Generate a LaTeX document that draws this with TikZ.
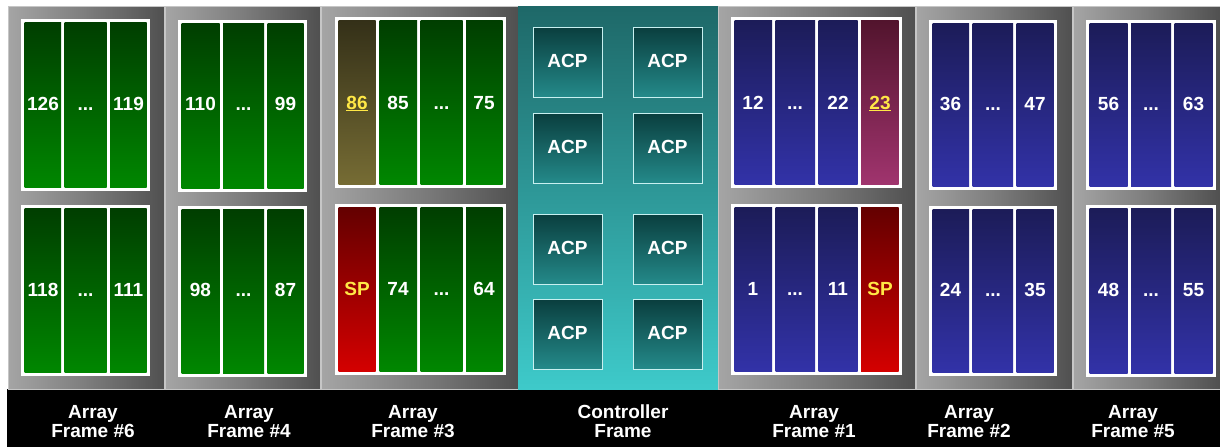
\documentclass[tikz,border=0pt]{standalone}
\usepackage{fontspec}
\setmainfont{Liberation Sans}
\definecolor{fgl}{RGB}{165,165,165}
\definecolor{fgm}{RGB}{125,125,125}
\definecolor{fgr}{RGB}{80,80,80}
\definecolor{gtop}{RGB}{0,62,0}
\definecolor{gbot}{RGB}{0,135,0}
\definecolor{btop}{RGB}{28,28,88}
\definecolor{bbot}{RGB}{50,50,168}
\definecolor{rtop}{RGB}{100,0,0}
\definecolor{rbot}{RGB}{212,0,0}
\definecolor{otop}{RGB}{52,48,24}
\definecolor{obot}{RGB}{118,108,52}
\definecolor{ptop}{RGB}{82,20,45}
\definecolor{pbot}{RGB}{160,52,110}
\definecolor{ctop}{RGB}{30,104,104}
\definecolor{cbot}{RGB}{62,202,202}
\definecolor{atop}{RGB}{10,62,62}
\definecolor{abot}{RGB}{36,138,138}
\definecolor{spy}{RGB}{255,232,70}
\tikzset{
  framebg/.style={left color=fgl, right color=fgr, middle color=fgm, draw=gray!45!white, line width=0.8pt},
  ctrlbg/.style={top color=ctop, bottom color=cbot},
  greencol/.style={top color=gtop, bottom color=gbot},
  bluecol/.style={top color=btop, bottom color=bbot},
  redcol/.style={top color=rtop, bottom color=rbot},
  olivecol/.style={top color=otop, bottom color=obot},
  pinkcol/.style={top color=ptop, bottom color=pbot},
  acpbox/.style={top color=atop, bottom color=abot, draw={rgb,255:red,200;green,240;blue,240}, line width=0.9pt},
  num/.style={text=white, font=\fontsize{19}{20}\selectfont\bfseries, anchor=base, inner sep=0pt},
  ynum/.style={num, text=spy},
  lbl/.style={text=white, font=\fontsize{19}{20}\selectfont\bfseries, anchor=base, inner sep=0pt},
}
\newcommand\colrow[3]{% #1 y-top, #2 y-bottom, #3 list x0/x1/style/text/name/textstyle ; baseline computed
  \foreach \a/\b/\s/\t/\n/\ts in {#3}{%
    \shade[\s] (\a,#1) rectangle (\b,#2);
  }}
\begin{document}
\begin{tikzpicture}[x=1pt,y=-1pt]
\useasboundingbox (0,0) rectangle (1220,447);
\fill[white] (0,0) rectangle (1220,447);
% black label band
\fill[black] (7,389) rectangle (1220,447);
% frames
\shade[framebg] (8,6) rectangle (164,389);
\shade[framebg] (165,6) rectangle (320,389);
\shade[framebg] (321,6) rectangle (518,389);
\shade[ctrlbg] (518,6) rectangle (718,389);
\shade[framebg] (718,6) rectangle (915,389);
\shade[framebg] (916,6) rectangle (1072,389);
\shade[framebg] (1073,6) rectangle (1220,389);

% ---------- Frame #6 ----------
\fill[white] (21,19) rectangle (150,191);
\fill[white] (21,205) rectangle (150,376);
\foreach \a/\b/\s in {24.5/61/greencol, 64.5/106.5/greencol, 110/146.5/greencol}{
  \shade[\s] (\a,22.5) rectangle (\b,187.5);
  \shade[\s] (\a,208.5) rectangle (\b,372.5);}
\node[num] (f6a) at (43,110) {126};
\node[num] (f6b) at (85.5,110) {...};
\node[num] (f6c) at (128.5,110) {119};
\node[num] (f6d) at (43,296) {118};
\node[num] (f6e) at (85.5,296) {...};
\node[num] (f6f) at (128.5,296) {111};

% ---------- Frame #4 ----------
\fill[white] (178,20) rectangle (307,192);
\fill[white] (178,206) rectangle (307,377);
\foreach \a/\b/\s in {181.5/219.5/greencol, 223/264/greencol, 267.5/303.5/greencol}{
  \shade[\s] (\a,23.5) rectangle (\b,188.5);
  \shade[\s] (\a,209.5) rectangle (\b,373.5);}
\node[num] (f4a) at (200.5,110) {110};
\node[num] (f4b) at (243.5,110) {...};
\node[num] (f4c) at (285.5,110) {99};
\node[num] (f4d) at (200.5,296) {98};
\node[num] (f4e) at (243.5,296) {...};
\node[num] (f4f) at (285.5,296) {87};

% ---------- Frame #3 ----------
\fill[white] (335,17) rectangle (506,188);
\fill[white] (335,204) rectangle (506,375);
\shade[olivecol] (338.5,20.5) rectangle (375.5,184.5);
\shade[redcol] (338.5,207.5) rectangle (375.5,371.5);
\foreach \a/\b/\s in {379.5/417/greencol, 420.5/462.5/greencol, 466/502.5/greencol}{
  \shade[\s] (\a,20.5) rectangle (\b,184.5);
  \shade[\s] (\a,207.5) rectangle (\b,371.5);}
\node[ynum] (f3a) at (357,109) {\underline{86}};
\node[num] (f3b) at (398,109) {85};
\node[num] (f3c) at (441.5,109) {...};
\node[num] (f3d) at (484,109) {75};
\node[ynum] (f3e) at (357,295) {SP};
\node[num] (f3f) at (398,295) {74};
\node[num] (f3g) at (441.5,295) {...};
\node[num] (f3h) at (484,295) {64};

% ---------- Controller ----------
\foreach \y [count=\i] in {27,113,214,299}{
  \foreach \x [count=\j] in {533,633}{
    \shade[acpbox] (\x,\y) rectangle (\x+69.5,\y+70);
    \node[num] (acp\i\j) at (\x+34.5,\y+40) {ACP};
  }}

% ---------- Frame #1 ----------
\fill[white] (731,17) rectangle (902,188);
\fill[white] (731,204) rectangle (902,375);
\foreach \a/\b/\s in {734.5/772/bluecol, 775.5/815/bluecol, 818.5/857.5/bluecol}{
  \shade[\s] (\a,20.5) rectangle (\b,184.5);
  \shade[\s] (\a,207.5) rectangle (\b,371.5);}
\shade[pinkcol] (861,20.5) rectangle (898.5,184.5);
\shade[redcol] (861,207.5) rectangle (898.5,371.5);
\node[num] (f1a) at (753,109) {12};
\node[num] (f1b) at (795,109) {...};
\node[num] (f1c) at (838,109) {22};
\node[ynum] (f1d) at (880,109) {\underline{23}};
\node[num] (f1e) at (753,295) {1};
\node[num] (f1f) at (795,295) {...};
\node[num] (f1g) at (838,295) {11};
\node[ynum] (f1h) at (880,295) {SP};

% ---------- Frame #2 ----------
\fill[white] (929,20) rectangle (1057,190);
\fill[white] (929,206) rectangle (1057,376);
\foreach \a/\b/\s in {932.5/969/bluecol, 972.5/1013/bluecol, 1016.5/1053.5/bluecol}{
  \shade[\s] (\a,23.5) rectangle (\b,186.5);
  \shade[\s] (\a,209.5) rectangle (\b,372.5);}
\node[num] (f2a) at (950.5,110) {36};
\node[num] (f2b) at (993,110) {...};
\node[num] (f2c) at (1035,110) {47};
\node[num] (f2d) at (950.5,296) {24};
\node[num] (f2e) at (993,296) {...};
\node[num] (f2f) at (1035,296) {35};

% ---------- Frame #5 ----------
\fill[white] (1086,20) rectangle (1216,190);
\fill[white] (1086,205) rectangle (1216,377);
\foreach \a/\b/\s in {1089.5/1127.5/bluecol, 1131/1171/bluecol, 1174.5/1212.5/bluecol}{
  \shade[\s] (\a,23.5) rectangle (\b,186.5);
  \shade[\s] (\a,208.5) rectangle (\b,373.5);}
\node[num] (f5a) at (1108.5,110) {56};
\node[num] (f5b) at (1151,110) {...};
\node[num] (f5c) at (1193.5,110) {63};
\node[num] (f5d) at (1108.5,296) {48};
\node[num] (f5e) at (1151,296) {...};
\node[num] (f5f) at (1193.5,296) {55};

% ---------- bottom labels ----------
\foreach \cx/\la/\lb/\n in {93/Array/Frame \#6/l6, 249/Array/Frame \#4/l4, 413/Array/Frame \#3/l3,
    623/Controller/Frame/lc, 814/Array/Frame \#1/l1, 969/Array/Frame \#2/l2, 1133/Array/Frame \#5/l5}{
  \node[lbl] (\n a) at (\cx,418) {\la};
  \node[lbl] (\n b) at (\cx,437.5) {\lb};
}
\end{tikzpicture}
\end{document}
